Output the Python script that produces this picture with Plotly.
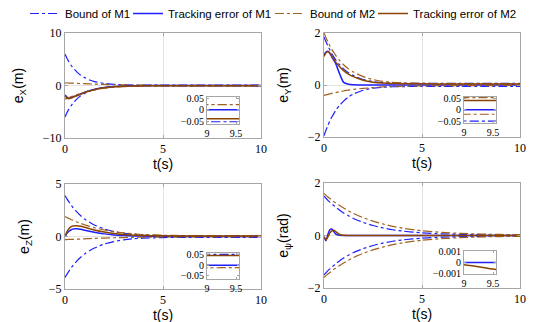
import plotly.graph_objects as go

# ---------------- data ----------------
t = [0, 0.1, 0.2, 0.3, 0.4, 0.5, 0.6, 0.8, 1.0, 1.25, 1.5, 2.0, 2.5, 3.0, 3.5, 4.0,
     5.0, 6.0, 7.0, 8.0, 9.0, 9.5, 10.0]

# e_X
ex_b1_up = [6.0, 5.2, 4.5, 3.9, 3.4, 3.0, 2.6, 1.95, 1.5, 1.05, 0.75, 0.4, 0.22, 0.14, 0.1, 0.085,
            0.07, 0.066, 0.065, 0.065, 0.065, 0.065, 0.065]
ex_b1_lo = [-6.0, -5.2, -4.5, -3.9, -3.4, -3.0, -2.6, -1.95, -1.5, -1.05, -0.75, -0.4, -0.21, -0.12, -0.08, -0.065,
            -0.056, -0.054, -0.053, -0.053, -0.053, -0.053, -0.053]
ex_e1 = [-1.8, -2.2, -2.35, -2.3, -2.2, -2.05, -1.9, -1.6, -1.3, -1.0, -0.75, -0.4, -0.2, -0.1, -0.05, -0.02,
         -0.005, 0, 0, 0, 0, 0, 0]
ex_b2_up = [0.5, 0.48, 0.47, 0.45, 0.44, 0.42, 0.4, 0.37, 0.34, 0.3, 0.27, 0.2, 0.15, 0.11, 0.085, 0.065,
            0.043, 0.032, 0.026, 0.023, 0.022, 0.022, 0.022]
ex_b2_lo = [-2.6, -2.45, -2.3, -2.15, -2.0, -1.87, -1.74, -1.5, -1.28, -1.02, -0.82, -0.52, -0.34, -0.22, -0.15, -0.11,
            -0.08, -0.072, -0.07, -0.07, -0.07, -0.07, -0.07]
ex_e2 = [-1.9, -2.4, -2.5, -2.4, -2.25, -2.1, -1.95, -1.65, -1.35, -1.05, -0.8, -0.45, -0.25, -0.14, -0.09, -0.065,
         -0.048, -0.043, -0.041, -0.04, -0.04, -0.04, -0.04]

# e_Y
ey_b1_up = [1.85, 1.66, 1.5, 1.35, 1.2, 1.08, 0.97, 0.78, 0.62, 0.47, 0.36, 0.21, 0.13, 0.09, 0.075, 0.067,
            0.062, 0.06, 0.06, 0.06, 0.06, 0.06, 0.06]
ey_b1_lo = [-1.95, -1.74, -1.55, -1.38, -1.23, -1.1, -0.98, -0.78, -0.62, -0.46, -0.35, -0.2, -0.12, -0.085, -0.068, -0.06,
            -0.054, -0.052, -0.05, -0.05, -0.05, -0.05, -0.05]
ey_e1 = [1.15, 1.27, 1.3, 1.22, 1.08, 0.95, 0.82, 0.42, 0.1, 0.03, 0.01, 0.003, 0.001, 0, 0, 0,
         0, 0, 0, 0, 0, 0, 0]
ey_b2_up = [2.0, 1.82, 1.66, 1.51, 1.37, 1.25, 1.14, 0.94, 0.78, 0.62, 0.5, 0.32, 0.21, 0.14, 0.1, 0.08,
            0.062, 0.056, 0.053, 0.052, 0.052, 0.052, 0.052]
ey_b2_lo = [-0.4, -0.38, -0.36, -0.34, -0.32, -0.3, -0.29, -0.26, -0.23, -0.2, -0.17, -0.13, -0.1, -0.075, -0.058, -0.047,
            -0.033, -0.026, -0.023, -0.021, -0.02, -0.02, -0.02]
ey_e2 = [1.1, 1.24, 1.28, 1.22, 1.1, 0.98, 0.88, 0.7, 0.55, 0.42, 0.32, 0.18, 0.11, 0.075, 0.058, 0.05,
         0.044, 0.042, 0.041, 0.04, 0.04, 0.04, 0.04]

# e_Z
ez_b1_up = [3.9, 3.58, 3.3, 3.03, 2.78, 2.55, 2.34, 1.98, 1.66, 1.35, 1.1, 0.72, 0.47, 0.31, 0.21, 0.14,
            0.08, 0.06, 0.054, 0.052, 0.051, 0.051, 0.051]
ez_b1_lo = [-3.9, -3.58, -3.3, -3.03, -2.78, -2.55, -2.34, -1.98, -1.66, -1.35, -1.1, -0.72, -0.48, -0.32, -0.22, -0.16,
            -0.1, -0.085, -0.078, -0.076, -0.075, -0.075, -0.075]
ez_e1 = [0, 0.3, 0.5, 0.62, 0.7, 0.73, 0.73, 0.68, 0.6, 0.5, 0.4, 0.25, 0.15, 0.09, 0.05, 0.03,
         0.01, 0.003, 0.001, 0, 0, 0, 0]
ez_b2_up = [1.9, 1.8, 1.71, 1.62, 1.54, 1.46, 1.38, 1.24, 1.12, 0.97, 0.84, 0.62, 0.46, 0.34, 0.25, 0.19,
            0.12, 0.09, 0.078, 0.072, 0.07, 0.07, 0.07]
ez_b2_lo = [-0.3, -0.29, -0.28, -0.27, -0.27, -0.26, -0.25, -0.24, -0.22, -0.2, -0.18, -0.15, -0.12, -0.1, -0.08, -0.065,
            -0.045, -0.03, -0.022, -0.016, -0.012, -0.011, -0.01]
ez_e2 = [0, 0.45, 0.75, 0.92, 1.0, 1.03, 1.03, 0.97, 0.88, 0.75, 0.62, 0.42, 0.28, 0.19, 0.13, 0.095,
         0.065, 0.052, 0.047, 0.045, 0.045, 0.045, 0.045]

# e_psi
ep_b1_up = [1.5, 1.42, 1.34, 1.27, 1.2, 1.14, 1.08, 0.96, 0.86, 0.75, 0.65, 0.5, 0.38, 0.29, 0.22, 0.17,
            0.1, 0.065, 0.045, 0.03, 0.022, 0.02, 0.018]
ep_b1_lo = [-1.5, -1.42, -1.34, -1.27, -1.2, -1.14, -1.08, -0.96, -0.86, -0.75, -0.65, -0.5, -0.38, -0.29, -0.22, -0.17,
            -0.1, -0.065, -0.045, -0.03, -0.022, -0.02, -0.018]
ep_e1 = [-0.05, -0.2, 0.05, 0.22, 0.25, 0.15, 0.05, 0.005, 0, 0, 0, 0, 0, 0, 0, 0,
         0, 0, 0, 0, 0, 0, 0]
ep_b2_up = [1.6, 1.53, 1.47, 1.41, 1.35, 1.29, 1.24, 1.14, 1.05, 0.94, 0.84, 0.68, 0.55, 0.44, 0.35, 0.28,
            0.18, 0.12, 0.08, 0.055, 0.04, 0.035, 0.03]
ep_b2_lo = [-1.6, -1.53, -1.47, -1.41, -1.35, -1.29, -1.24, -1.14, -1.05, -0.94, -0.84, -0.68, -0.55, -0.44, -0.35, -0.28,
            -0.18, -0.12, -0.08, -0.055, -0.04, -0.035, -0.03]
ep_e2 = [-0.05, -0.15, -0.05, 0.1, 0.18, 0.2, 0.15, 0.04, 0.01, 0.003, 0.001, 0, 0, 0, 0, 0,
         0, 0, 0, 0.0001, -0.0002, -0.0006, -0.001]

y_titles = ["e<sub>X</sub>(m)", "e<sub>Y</sub>(m)", "e<sub>Z</sub>(m)", "e<sub>ψ</sub>(rad)"]
main_yticks = [[-10, 0, 10], [-2, 0, 2], [-5, 0, 5], [-2, 0, 2]]
inset_yticks = [[-0.05, 0, 0.05], [-0.05, 0, 0.05], [-0.05, 0, 0.05], [-0.001, 0, 0.001]]
inset_yranges = [[-0.063, 0.056], [-0.058, 0.055], [-0.064, 0.057], [-0.00106, 0.00106]]
x_ticks = [0, 5, 10]
inset_xticks = [9, 9.5]
legend_names = ["Bound of M1", "Tracking error of M1", "Bound of M2", "Tracking error of M2"]

panels = [
    (ex_b1_up, ex_b1_lo, ex_e1, ex_b2_up, ex_b2_lo, ex_e2),
    (ey_b1_up, ey_b1_lo, ey_e1, ey_b2_up, ey_b2_lo, ey_e2),
    (ez_b1_up, ez_b1_lo, ez_e1, ez_b2_up, ez_b2_lo, ez_e2),
    (ep_b1_up, ep_b1_lo, ep_e1, ep_b2_up, ep_b2_lo, ep_e2),
]

# ---------------- styling / layout ----------------
W, H = 550, 322
C1 = "#1f1fff"
C2B = "#a0601e"
C2E = "#8a4400"
GRID = "#e3e3e3"
FRAME = "#a6a6a6"
SERIF = "Liberation Serif"
SANS = "Liberation Sans"

def px_dom_x(a, b):
    return [a / W, b / W]

def px_dom_y(top, bot):
    return [1 - bot / H, 1 - top / H]

main_boxes = [(57, 253, 25, 130), (316, 512, 25, 129), (57, 253, 176, 281), (316, 512, 175, 280)]
inset_boxes = [(199, 231, 89, 116), (456, 488, 89, 115), (199, 231, 245, 271), (456, 488, 243, 266)]
legend_x_px = [17, 120, 262, 365]
legend_keys = ["legend", "legend2", "legend3", "legend4"]

fig = go.Figure()
layout = dict(
    width=W, height=H, margin=dict(l=0, r=0, t=0, b=0, autoexpand=False),
    paper_bgcolor="white", plot_bgcolor="white", showlegend=True,
)
for k, xp in zip(legend_keys, legend_x_px):
    layout[k] = dict(orientation="h", x=xp / W, y=1 + 9 / H, xanchor="left", yanchor="top",
                     font=dict(family=SANS, size=11.5, color="black"),
                     bgcolor="rgba(0,0,0,0)", itemwidth=30)

def add_traces(data, xa, ya, legend):
    b1u, b1l, e1, b2u, b2l, e2 = data
    specs = [
        (b1u, C1, "dashdot", 1.2, 0, 0), (b1l, C1, "dashdot", 1.2, None, 0),
        (e1, C1, "solid", 1.5, 1, 1),
        (b2u, C2B, "dashdot", 1.2, 2, 2), (b2l, C2B, "dashdot", 1.2, None, 2),
        (e2, C2E, "solid", 1.5, 3, 3),
    ]
    for y, col, dash, w, li, grp in specs:
        show = legend and li is not None
        fig.add_trace(go.Scatter(
            x=t, y=y, mode="lines", xaxis=xa, yaxis=ya,
            line=dict(color=col, dash=dash, width=w, shape="spline", smoothing=0.6),
            name=legend_names[grp], legendgroup=str(grp), legend=legend_keys[grp],
            showlegend=show, hoverinfo="skip"))

ax_common = dict(showline=True, mirror="ticks", linecolor=FRAME, linewidth=1,
                 ticks="inside", ticklen=3, tickcolor=FRAME, zeroline=False, automargin=False,
                 tickfont=dict(family=SERIF, size=12, color="black"))

for i in range(4):
    n_main = 2 * i + 1
    n_ins = 2 * i + 2
    xm = "x" if n_main == 1 else f"x{n_main}"
    ym = "y" if n_main == 1 else f"y{n_main}"
    xi, yi = f"x{n_ins}", f"y{n_ins}"
    l, r, tp, bt = main_boxes[i]
    layout["xaxis" if n_main == 1 else f"xaxis{n_main}"] = dict(
        ax_common, domain=px_dom_x(l, r), anchor=ym, range=[0, 10], tickvals=x_ticks,
        showgrid=True, gridcolor=GRID, gridwidth=1, automargin=True,
        title=dict(text="t(s)", font=dict(family=SANS, size=14, color="black"), standoff=3))
    ytv = main_yticks[i]
    layout["yaxis" if n_main == 1 else f"yaxis{n_main}"] = dict(
        ax_common, domain=px_dom_y(tp, bt), anchor=xm, range=[ytv[0], ytv[-1]], tickvals=ytv,
        showgrid=True, gridcolor=GRID, gridwidth=1,
        title=dict(text=y_titles[i], font=dict(family=SANS, size=14, color="black")))
    l, r, tp, bt = inset_boxes[i]
    ins_common = dict(ax_common, tickfont=dict(family=SERIF, size=10, color="black"), ticklen=2)
    layout[f"xaxis{n_ins}"] = dict(
        ins_common, domain=px_dom_x(l, r), anchor=yi, range=[9, 9.55], tickvals=inset_xticks,
        showgrid=False)
    layout[f"yaxis{n_ins}"] = dict(
        ins_common, domain=px_dom_y(tp, bt), anchor=xi, range=inset_yranges[i],
        tickvals=inset_yticks[i], showgrid=False)
    add_traces(panels[i], xm, ym, legend=(i == 0))
    add_traces(panels[i], xi, yi, legend=False)

fig.update_layout(**layout)
fig.write_html("out.html")
